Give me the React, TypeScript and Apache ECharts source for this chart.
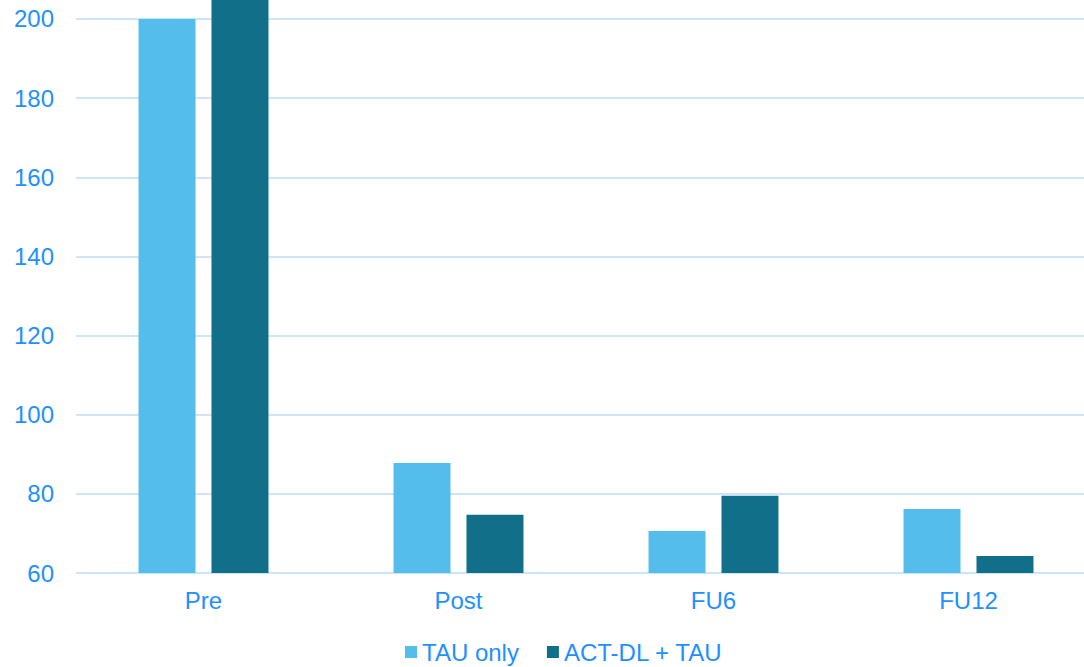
import React, { useEffect, useRef } from "react";
import * as echarts from "echarts";

const categories = ["Pre", "Post", "FU6", "FU12"];
const tauOnly = [200, 87.8, 70.6, 76.2];
const actDlTau = [215, 74.7, 79.5, 64.3];
const seriesNames = ["TAU only", "ACT-DL + TAU"];

export default function App() {
  const ref = useRef<HTMLDivElement>(null);
  useEffect(() => {
    if (!ref.current) return;
    const chart = echarts.init(ref.current, undefined, { renderer: "svg" });
    const textColor = "#1e90ff";
    const font = "'Liberation Sans', Arial, sans-serif";
    chart.setOption({
      animation: false,
      grid: { left: 76, right: 0, top: 0, bottom: 94, containLabel: false },
      legend: {
        bottom: -2,
        left: 400,
        itemWidth: 12,
        itemHeight: 12,
        itemGap: 28,
        icon: "rect",
        textStyle: { color: textColor, fontSize: 24, fontFamily: font },
        data: seriesNames,
      },
      xAxis: {
        type: "category",
        data: categories,
        axisLine: { show: false },
        axisTick: { show: false },
        axisLabel: { color: textColor, fontSize: 24, fontFamily: font, margin: 15 },
      },
      yAxis: {
        type: "value",
        min: 60,
        max: 204.8,
        interval: 20,
        axisLine: { show: false },
        axisTick: { show: false },
        axisLabel: {
          color: textColor,
          fontSize: 24,
          fontFamily: font,
          margin: 22,
          showMaxLabel: false,
        },
        splitLine: { show: true, showMaxLine: false, lineStyle: { color: "#cde5f8", width: 2 } },
      },
      series: [
        {
          name: seriesNames[0],
          type: "bar",
          data: tauOnly,
          barWidth: 57,
          barGap: "28%",
          clip: true,
          itemStyle: { color: "#55bdec" },
        },
        {
          name: seriesNames[1],
          type: "bar",
          data: actDlTau,
          barWidth: 57,
          barGap: "28%",
          clip: true,
          itemStyle: { color: "#126f8a" },
        },
      ],
    });
    return () => chart.dispose();
  }, []);
  return (
    <div
      style={{ position: "fixed", left: 0, top: 0, width: 1084, height: 667, background: "#fff", overflow: "hidden" }}
    >
      <div ref={ref} style={{ width: 1096, height: 667 }} />
    </div>
  );
}
